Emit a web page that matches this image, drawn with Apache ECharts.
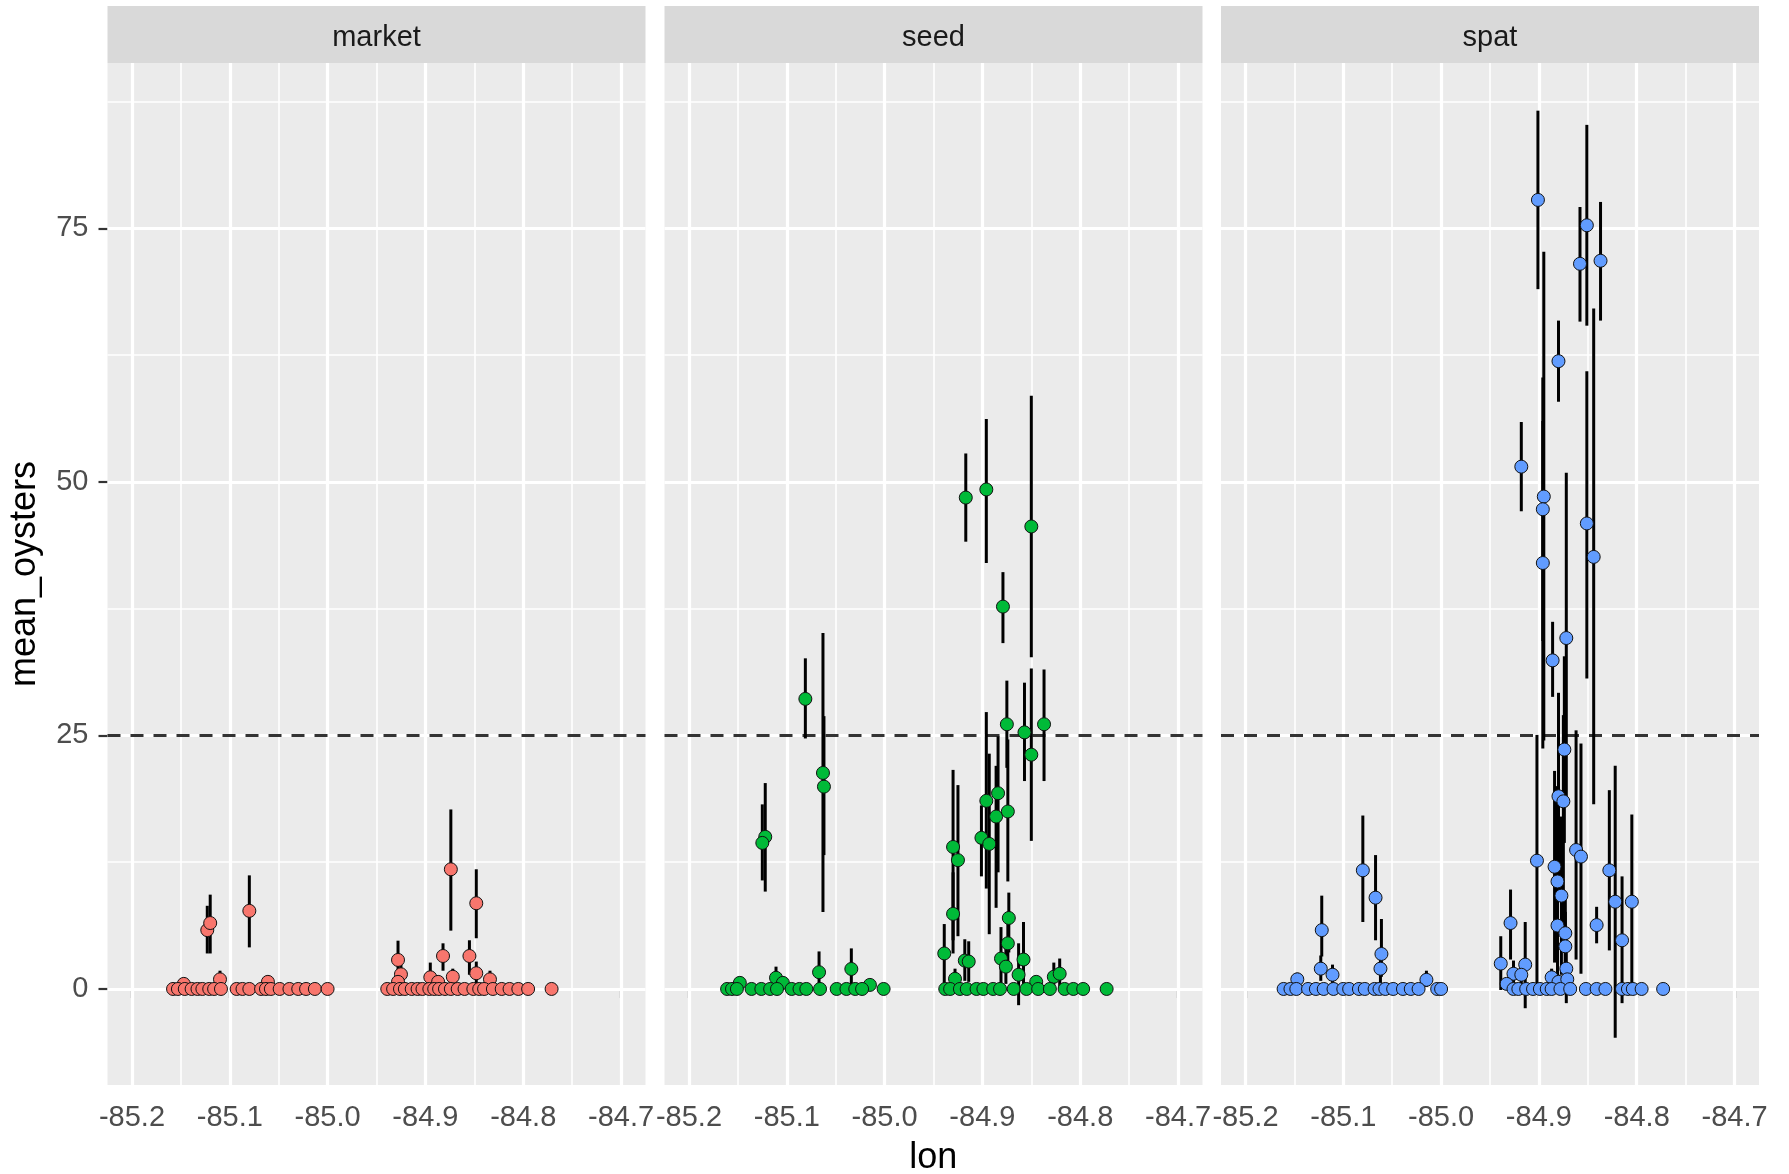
<!DOCTYPE html>
<html>
<head>
<meta charset="utf-8">
<script src="https://cdn.jsdelivr.net/npm/echarts@6/dist/echarts.min.js"></script>
<style>
html,body{margin:0;padding:0;background:#fff;}
#chart{width:1789px;height:1174px;}
</style>
</head>
<body>
<div id="chart"></div>
<script>
// ---------- data: [lon, mean_oysters, lower, upper] ----------
const facets = ['market', 'seed', 'spat'];
const xTicks = [-85.2, -85.1, -85.0, -84.9, -84.8, -84.7];
const xMinor = [-85.15, -85.05, -84.95, -84.85, -84.75];
const yTicks = [0, 25, 50, 75];
const yMinor = [12.5, 37.5, 62.5, 87.5];
const refLine = 25;

const marketPts = [
  [-85.123, 5.8, 3.5, 8.2], [-85.120, 6.5, 3.5, 9.3], [-85.080, 7.7, 4.1, 11.2],
  [-85.110, 0.95, 0, 1.8], [-85.061, 0.7, 0, 1.2], [-85.147, 0.5, 0, 0.9],
  [-85.158, 0, 0, 0], [-85.153, 0, 0, 0], [-85.146, 0, 0, 0], [-85.139, 0, 0, 0],
  [-85.133, 0, 0, 0], [-85.128, 0, 0, 0], [-85.121, 0, 0, 0], [-85.116, 0, 0, 0],
  [-85.109, 0, 0, 0], [-85.093, 0, 0, 0], [-85.087, 0, 0, 0], [-85.080, 0, 0, 0],
  [-85.068, 0, 0, 0], [-85.063, 0, 0, 0], [-85.058, 0, 0, 0], [-85.049, 0, 0, 0],
  [-85.039, 0, 0, 0], [-85.030, 0, 0, 0], [-85.022, 0, 0, 0], [-85.013, 0, 0, 0],
  [-85.000, 0, 0, 0],
  [-84.874, 11.8, 5.75, 17.7], [-84.848, 8.45, 5.0, 11.8], [-84.928, 2.86, 1.0, 4.76],
  [-84.882, 3.25, 1.8, 4.5], [-84.855, 3.25, 1.4, 4.8], [-84.925, 1.45, 0.3, 2.6],
  [-84.895, 1.15, 0, 2.6], [-84.872, 1.2, 0.3, 2.0], [-84.848, 1.55, 0.4, 2.7],
  [-84.834, 0.95, 0, 1.8], [-84.928, 0.7, 0, 1.3], [-84.887, 0.7, 0, 1.3],
  [-84.939, 0, 0, 0], [-84.933, 0, 0, 0], [-84.926, 0, 0, 0], [-84.921, 0, 0, 0],
  [-84.914, 0, 0, 0], [-84.908, 0, 0, 0], [-84.903, 0, 0, 0], [-84.896, 0, 0, 0],
  [-84.891, 0, 0, 0], [-84.886, 0, 0, 0], [-84.880, 0, 0, 0], [-84.874, 0, 0, 0],
  [-84.867, 0, 0, 0], [-84.860, 0, 0, 0], [-84.851, 0, 0, 0], [-84.845, 0, 0, 0],
  [-84.840, 0, 0, 0], [-84.831, 0, 0, 0], [-84.822, 0, 0, 0], [-84.814, 0, 0, 0],
  [-84.805, 0, 0, 0], [-84.795, 0, 0, 0], [-84.771, 0, 0, 0]
];

const seedPts = [
  [-85.081, 28.6, 24.7, 32.6], [-85.063, 21.3, 7.6, 35.1], [-85.062, 19.95, 13.2, 26.9],
  [-85.122, 15.0, 9.6, 20.3], [-85.125, 14.4, 10.7, 18.2], [-85.111, 1.1, 0, 2.2],
  [-85.104, 0.6, 0.6, 0.6], [-85.067, 1.65, 0, 3.7], [-85.034, 1.97, 0, 4.0],
  [-85.148, 0.6, 0.6, 0.6], [-85.015, 0.4, 0.4, 0.4],
  [-85.161, 0, 0, 0], [-85.156, 0, 0, 0], [-85.151, 0, 0, 0], [-85.136, 0, 0, 0],
  [-85.126, 0, 0, 0], [-85.117, 0, 0, 0], [-85.110, 0, 0, 0], [-85.095, 0, 0, 0],
  [-85.087, 0, 0, 0], [-85.080, 0, 0, 0], [-85.066, 0, 0, 0], [-85.049, 0, 0, 0],
  [-85.039, 0, 0, 0], [-85.030, 0, 0, 0], [-85.023, 0, 0, 0], [-85.001, 0, 0, 0],
  [-84.917, 48.45, 44.1, 52.8], [-84.896, 49.25, 42.0, 56.2], [-84.850, 45.6, 32.7, 58.5],
  [-84.879, 37.7, 34.1, 41.1], [-84.875, 26.1, 21.8, 30.4], [-84.857, 25.3, 20.5, 30.2],
  [-84.837, 26.1, 20.5, 31.5], [-84.850, 23.1, 14.6, 31.6], [-84.896, 18.55, 9.9, 27.3],
  [-84.884, 19.3, 11.5, 24.9], [-84.886, 17.0, 8.0, 22.0], [-84.874, 17.5, 10.6, 24.6],
  [-84.901, 14.9, 11.1, 18.1], [-84.893, 14.3, 5.4, 23.2], [-84.930, 14.0, 4.8, 21.6],
  [-84.925, 12.7, 5.2, 20.1], [-84.930, 7.4, 3.5, 11.5], [-84.939, 3.5, -0.1, 6.4],
  [-84.873, 7.0, 3.6, 9.5], [-84.874, 4.5, 2.5, 6.5], [-84.858, 2.9, -0.1, 6.6],
  [-84.881, 3.0, 0.5, 6.1], [-84.918, 2.8, 0.8, 4.9], [-84.914, 2.7, 0.7, 4.7],
  [-84.928, 1.0, 0, 2.0], [-84.876, 2.2, 0.5, 4.0], [-84.863, 1.4, -1.6, 4.5],
  [-84.827, 1.2, 0, 2.6], [-84.821, 1.5, 0, 3.0], [-84.845, 0.7, 0.7, 0.7],
  [-84.938, 0, 0, 0], [-84.933, 0, 0, 0], [-84.923, 0, 0, 0], [-84.916, 0, 0, 0],
  [-84.906, 0, 0, 0], [-84.899, 0, 0, 0], [-84.889, 0, 0, 0], [-84.882, 0, 0, 0],
  [-84.868, 0, 0, 0], [-84.855, 0, 0, 0], [-84.843, 0, 0, 0], [-84.831, 0, 0, 0],
  [-84.816, 0, 0, 0], [-84.807, 0, 0, 0], [-84.797, 0, 0, 0], [-84.773, 0, 0, 0]
];

const spatPts = [
  [-85.080, 11.7, 6.6, 17.1], [-85.067, 9.0, 4.8, 13.2], [-85.122, 5.8, 3.2, 9.2],
  [-85.061, 3.45, 1.2, 6.9], [-85.062, 2.0, 0.5, 3.5], [-85.123, 2.0, 0.8, 3.3],
  [-85.111, 1.4, 0.4, 2.4], [-85.147, 0.95, 0.3, 1.6], [-85.015, 0.9, 0.2, 1.8],
  [-85.161, 0, 0, 0], [-85.154, 0, 0, 0], [-85.148, 0, 0, 0], [-85.136, 0, 0, 0],
  [-85.128, 0, 0, 0], [-85.120, 0, 0, 0], [-85.110, 0, 0, 0], [-85.100, 0, 0, 0],
  [-85.094, 0, 0, 0], [-85.084, 0, 0, 0], [-85.078, 0, 0, 0], [-85.068, 0, 0, 0],
  [-85.063, 0, 0, 0], [-85.057, 0, 0, 0], [-85.049, 0, 0, 0], [-85.039, 0, 0, 0],
  [-85.031, 0, 0, 0], [-85.023, 0, 0, 0], [-85.004, 0, 0, 0], [-85.000, 0, 0, 0],
  [-84.901, 77.8, 69.0, 86.6], [-84.851, 75.3, 65.4, 85.2], [-84.858, 71.5, 65.8, 77.1],
  [-84.837, 71.8, 65.9, 77.6], [-84.880, 61.9, 57.9, 65.9], [-84.918, 51.5, 47.1, 55.9],
  [-84.895, 48.55, 24.5, 72.7], [-84.896, 47.3, 34.3, 60.3], [-84.896, 42.0, 23.7, 56.0],
  [-84.851, 45.9, 30.6, 60.9], [-84.844, 42.6, 18.2, 67.1], [-84.872, 34.6, 18.5, 50.9],
  [-84.886, 32.4, 28.8, 36.2], [-84.874, 23.6, 14.4, 32.8], [-84.880, 19.0, 9.0, 29.2],
  [-84.875, 18.5, 6.0, 27.0], [-84.902, 12.65, -0.1, 25.05], [-84.862, 13.7, 2.9, 25.5],
  [-84.857, 13.05, 1.5, 24.2], [-84.884, 12.05, 2.6, 21.5], [-84.881, 10.6, 1.2, 20.0],
  [-84.877, 9.2, 1.4, 17.0], [-84.828, 11.7, 3.8, 19.6], [-84.822, 8.6, -4.8, 22.0],
  [-84.805, 8.6, -0.1, 17.2], [-84.841, 6.3, 4.5, 8.1], [-84.815, 4.8, -1.4, 11.1],
  [-84.929, 6.5, 2.9, 9.8], [-84.939, 2.5, -0.1, 5.2], [-84.881, 6.25, 2.0, 10.5],
  [-84.873, 5.5, 1.5, 9.5], [-84.873, 4.2, 0.8, 7.6], [-84.872, 2.0, -1.4, 5.4],
  [-84.914, 2.4, -1.9, 6.6], [-84.926, 1.5, 0.2, 2.8], [-84.918, 1.4, 0.2, 2.6],
  [-84.933, 0.5, 0, 1.0], [-84.887, 1.15, 0.3, 2.0], [-84.880, 0.7, 0, 1.4],
  [-84.871, 0.95, 0, 1.9],
  [-84.926, 0, 0, 0], [-84.921, 0, 0, 0], [-84.913, 0, 0, 0], [-84.906, 0, 0, 0],
  [-84.899, 0, 0, 0], [-84.892, 0, 0, 0], [-84.887, 0, 0, 0], [-84.878, 0, 0, 0],
  [-84.868, 0, 0, 0], [-84.852, 0, 0, 0], [-84.841, 0, 0, 0], [-84.832, 0, 0, 0],
  [-84.815, 0, 0, 0], [-84.809, 0, 0, 0], [-84.804, 0, 0, 0], [-84.795, 0, 0, 0],
  [-84.773, 0, 0, 0]
];

// ---------- layout & style ----------
const facetData = [marketPts, seedPts, spatPts];
const fills = ['#F8766D', '#00BA38', '#619CFF'];
const X_MIN = -85.225, X_MAX = -84.675, Y_MIN = -9.47, Y_MAX = 91.3;
const panelLeft = [107.5, 664.5, 1221];
const panelW = 538, panelTop = 63, panelH = 1022;
const stripTop = 6;
const FONT = '"Liberation Sans", Arial, sans-serif';

const chart = echarts.init(document.getElementById('chart'), null, {renderer: 'canvas'});

const grids = [], xAxes = [], yAxes = [], series = [], graphics = [];

facets.forEach((name, i) => {
  grids.push({left: panelLeft[i], top: panelTop, width: panelW, height: panelH,
    show: true, backgroundColor: '#EBEBEB', borderWidth: 0});
  xAxes.push({type: 'value', gridIndex: i, min: X_MIN, max: X_MAX,
    axisLine: {show: false}, splitLine: {show: false},
    axisTick: {show: true, length: 9, customValues: xTicks, lineStyle: {color: '#333333', width: 2.2}},
    axisLabel: {show: true, customValues: xTicks, formatter: v => v.toFixed(1),
      color: '#4D4D4D', fontSize: 29, fontFamily: FONT, margin: 18}});
  yAxes.push({type: 'value', gridIndex: i, min: Y_MIN, max: Y_MAX,
    axisLine: {show: false}, splitLine: {show: false},
    axisTick: {show: i === 0, length: 9, customValues: yTicks, lineStyle: {color: '#333333', width: 2.2}},
    axisLabel: {show: i === 0, customValues: yTicks, color: '#4D4D4D', fontSize: 29,
      fontFamily: FONT, margin: 19}});

  const gl = [];
  xMinor.forEach(v => gl.push({xAxis: v, lineStyle: {color: '#FFFFFF', width: 1.6, type: 'solid'}}));
  yMinor.forEach(v => gl.push({yAxis: v, lineStyle: {color: '#FFFFFF', width: 1.6, type: 'solid'}}));
  xTicks.forEach(v => gl.push({xAxis: v, lineStyle: {color: '#FFFFFF', width: 3.2, type: 'solid'}}));
  yTicks.forEach(v => gl.push({yAxis: v, lineStyle: {color: '#FFFFFF', width: 3.2, type: 'solid'}}));

  series.push({type: 'scatter', xAxisIndex: i, yAxisIndex: i, data: [], silent: true, z: 1,
    markLine: {silent: true, z: 1, symbol: ['none', 'none'], label: {show: false},
      animation: false, data: gl}});
  series.push({type: 'scatter', xAxisIndex: i, yAxisIndex: i, data: [], silent: true, z: 2,
    markLine: {silent: true, z: 2, symbol: ['none', 'none'], label: {show: false}, animation: false,
      data: [{yAxis: refLine, lineStyle: {color: '#333333', width: 3, type: [13, 10]}}]}});

  const pts = facetData[i];
  series.push({type: 'custom', xAxisIndex: i, yAxisIndex: i, z: 3, silent: true,
    data: pts.filter(r => r[3] > r[2]),
    encode: {x: 0, y: 1},
    renderItem: (params, api) => {
      const a = api.coord([api.value(0), api.value(2)]);
      const b = api.coord([api.value(0), api.value(3)]);
      return {type: 'line', shape: {x1: a[0], y1: a[1], x2: b[0], y2: b[1]},
        style: {stroke: '#000000', lineWidth: 3}};
    }});
  series.push({type: 'scatter', xAxisIndex: i, yAxisIndex: i, z: 4, silent: true,
    data: pts.map(r => [r[0], r[1]]), symbol: 'circle', symbolSize: 13,
    itemStyle: {color: fills[i], borderColor: '#111111', borderWidth: 1, opacity: 1}});

  graphics.push({type: 'rect', left: panelLeft[i], top: stripTop, silent: true,
    shape: {width: panelW, height: panelTop - stripTop}, style: {fill: '#D9D9D9'}});
  graphics.push({type: 'text', x: panelLeft[i] + panelW / 2, y: 38, silent: true,
    style: {text: name, fill: '#1A1A1A', font: '29px ' + FONT, textAlign: 'center', textVerticalAlign: 'middle'}});
});

graphics.push({type: 'text', x: (panelLeft[0] + panelLeft[2] + panelW) / 2, y: 1158, silent: true,
  style: {text: 'lon', fill: '#000000', font: '36px ' + FONT, textAlign: 'center', textVerticalAlign: 'middle'}});
graphics.push({type: 'text', x: 25, y: panelTop + panelH / 2, rotation: Math.PI / 2, silent: true,
  style: {text: 'mean_oysters', fill: '#000000', font: '36px ' + FONT, textAlign: 'center', textVerticalAlign: 'middle'}});

chart.setOption({
  animation: false,
  backgroundColor: '#FFFFFF',
  grid: grids, xAxis: xAxes, yAxis: yAxes, series: series, graphic: graphics
});
</script>
</body>
</html>
